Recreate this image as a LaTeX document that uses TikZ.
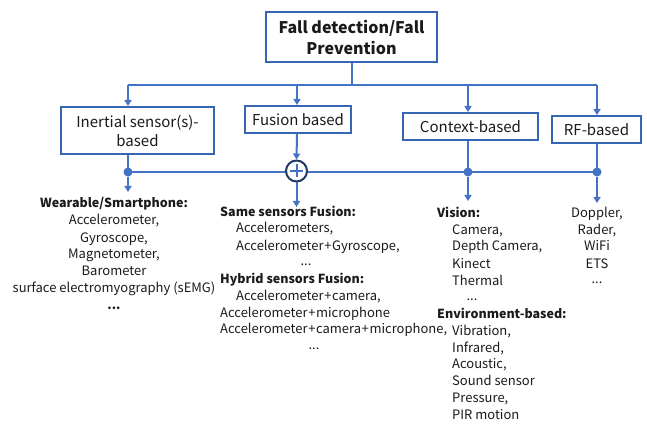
\documentclass[tikz,border=0pt]{standalone}
\usepackage{fontspec}
\setmainfont{Noto Sans CJK SC}
\usetikzlibrary{arrows.meta}
\definecolor{lblue}{HTML}{4472C4}
\definecolor{bblue}{HTML}{3565B5}
\definecolor{navy}{HTML}{1F3864}
\definecolor{ink}{HTML}{1A1A1A}
\newcommand{\pl}{\kern0.6pt+\kern0.6pt}
\begin{document}
\begin{tikzpicture}[x=1pt,y=-1pt,
  box/.style={draw=bblue, line width=2pt, fill=white, inner sep=0pt, align=center, text=ink, font=\fontsize{15}{19}\selectfont},
  conn/.style={draw=lblue, line width=2pt},
  arr/.style={conn, -{Triangle[width=7pt,length=6pt]}},
  jdot/.style={circle, fill=lblue, inner sep=0pt, minimum size=9pt},
  txt/.style={inner sep=0pt, text=ink, text height=9pt, text depth=3pt, font=\fontsize{13}{15}\selectfont},
  btxt/.style={txt, font=\bfseries\fontsize{12.5}{15}\selectfont}]
\useasboundingbox (0,0) rectangle (647,430);
% boxes
\node[box, line width=2.6pt, minimum width=171pt, minimum height=50pt, font=\bfseries\fontsize{16}{21}\selectfont] (top) at (351.5,37) {Fall detection/Fall\\Prevention};
\node[box, minimum width=153pt, minimum height=47pt] (inert) at (137.5,130.5) {Inertial sensor(s)-\\based};
\node[box, minimum width=106pt, minimum height=27pt] (fus) at (298,119.5) {Fusion based};
\node[box, minimum width=135pt, minimum height=27pt] (ctx) at (470.5,126.5) {Context-based};
\node[box, minimum width=89pt, minimum height=27pt] (rf) at (596.5,129.5) {RF-based};
% upper junctions
\coordinate (h1) at (128,85);
\coordinate (h2) at (297,85);
\coordinate (h3) at (468,85);
\coordinate (h4) at (597,85);
\draw[conn] (top.south) -- (top.south |- h1);
\draw[conn] (h1) -- (h4);
\draw[arr] (h1) -- (h1 |- inert.north);
\draw[arr] (h2) -- (h2 |- fus.north);
\draw[arr] (h3) -- (h3 |- ctx.north);
\draw[arr] (h4) -- (h4 |- rf.north);
% lower junctions
\coordinate (d1) at (128,172);
\coordinate (d3) at (468,172);
\coordinate (d4) at (597,172);
\draw[conn] (d1) -- (d4);
\draw[conn] (h1 |- inert.south) -- (d1);
\draw[conn] (h3 |- ctx.south) -- (d3);
\draw[conn] (h4 |- rf.south) -- (d4);
\node[circle, draw=navy, line width=2pt, fill=white, minimum size=21pt, inner sep=0pt] (plus) at (296.5,171) {};
\draw[arr] (h2 |- fus.south) -- (plus.north);
\draw[lblue, line width=2pt] (plus.center) ++(-6.5,0) -- ++(13,0);
\draw[lblue, line width=2pt] (plus.center) ++(0,-6.5) -- ++(0,13);
\node[jdot] (n1) at (d1) {};
\node[jdot] (n3) at (d3) {};
\node[jdot] (n4) at (d4) {};
\coordinate (e1) at (128,192);
\coordinate (e2) at (296.5,207);
\coordinate (e3) at (468,201);
\coordinate (e4) at (597,203);
\draw[arr] (n1) -- (e1);
\draw[arr] (plus.south) -- (e2);
\draw[arr] (n3) -- (e3);
\draw[arr] (n4) -- (e4);
% inertial text
\node[btxt] (a0) at (114,205) {Wearable/Smartphone:};
\node[txt] (a1) at (114,222) {Accelerometer,};
\node[txt] (a2) at (114,239) {Gyroscope,};
\node[txt] (a3) at (114,255) {Magnetometer,};
\node[txt] (a4) at (114,272) {Barometer};
\node[txt] (a5) at (114,289) {surface electromyography (sEMG)};
\node[btxt] (a6) at (114,306) {...};
% fusion text
\node[btxt, anchor=west] (b0) at (220,214) {Same sensors Fusion:};
\node[txt, anchor=west] (b1) at (236,230) {Accelerometers,};
\node[txt, anchor=west] (b2) at (236,247) {Accelerometer\pl Gyroscope,};
\node[txt] (b3) at (306,262) {...};
\node[btxt, anchor=west] (b4) at (220,280) {Hybrid sensors Fusion:};
\node[txt, anchor=west] (b5) at (236,297) {Accelerometer\pl camera,};
\node[txt, anchor=west] (b6) at (220,314) {Accelerometer\pl microphone};
\node[txt, anchor=west] (b7) at (220,330) {Accelerometer\pl camera\pl microphone,};
\node[txt] (b8) at (314,346) {...};
% context text
\node[btxt, anchor=west] (c0) at (437,215) {Vision:};
\node[txt, anchor=west] (c1) at (452,232) {Camera,};
\node[txt, anchor=west] (c2) at (452,248) {Depth Camera,};
\node[txt, anchor=west] (c3) at (452,265) {Kinect};
\node[txt, anchor=west] (c4) at (452,282) {Thermal};
\node[txt] (c5) at (472,297) {...};
\node[btxt, anchor=west] (c6) at (437,315) {Environment-based:};
\node[txt, anchor=west] (c7) at (452,332) {Vibration,};
\node[txt, anchor=west] (c8) at (452,349) {Infrared,};
\node[txt, anchor=west] (c9) at (452,365) {Acoustic,};
\node[txt, anchor=west] (c10) at (452,382) {Sound sensor};
\node[txt, anchor=west] (c11) at (452,399) {Pressure,};
\node[txt, anchor=west] (c12) at (452,416) {PIR motion};
% rf text
\node[txt] (r1) at (597,215) {Doppler,};
\node[txt] (r2) at (597,232) {Rader,};
\node[txt] (r3) at (597,248) {WiFi};
\node[txt] (r4) at (597,265) {ETS};
\node[txt] (r5) at (597,280) {...};
\end{tikzpicture}
\end{document}
